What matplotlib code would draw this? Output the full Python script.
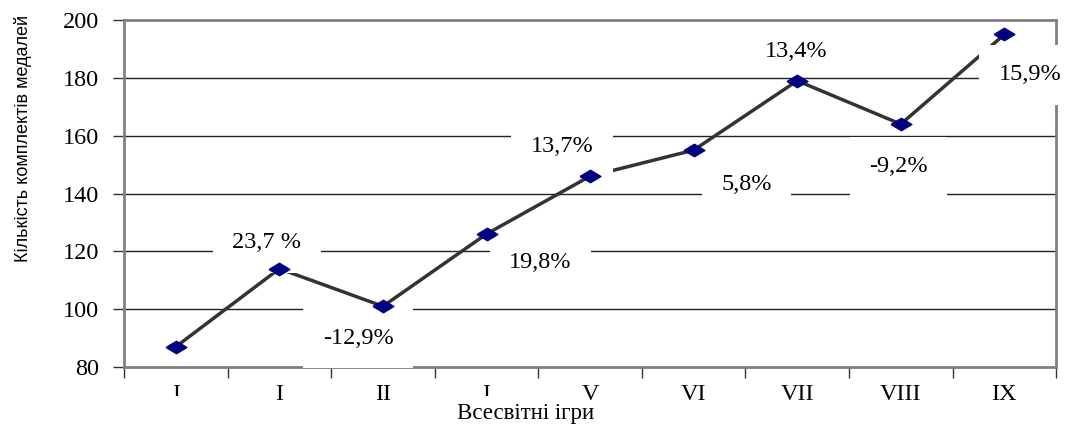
import matplotlib
matplotlib.use("Agg")
import matplotlib.pyplot as plt
from matplotlib.transforms import Bbox, TransformedBbox

# Data
games = ["I", "I", "II", "I", "V", "VI", "VII", "VIII", "IX"]
medal_sets = [87, 114, 101, 126, 146, 155, 179, 164, 195]
growth_labels = ["23,7 %", "-12,9%", "19,8%", "13,7%", "5,8%", "13,4%", "-9,2%", "15,9%"]

# where the growth labels sit (data coords) and whether they have a white box
label_x = [0.88, 1.76, 3.52, 3.73, 5.51, 5.99, 6.98, 8.25]
label_y = [122.9, 90.0, 116.3, 156.1, 143.0, 189.0, 149.2, 181.0]
label_box = [True, True, True, True, True, False, True, True]

serif = "Liberation Serif"
fs = 17.5

fig = plt.figure(figsize=(10.69, 4.26), dpi=100)
ax = fig.add_axes([0.116, 0.1385, 0.872, 0.8145])

x = list(range(len(games)))

# line and markers
ax.plot(x, medal_sets, color="#333333", lw=2.5, zorder=2)
diamond = [(-1, 0), (0, 0.6), (1, 0), (0, -0.6), (-1, 0)]
ax.plot(x, medal_sets, ls="none", marker=diamond, ms=15,
        color="#000080", markeredgecolor="#000080", zorder=4)

# axes limits and grid
ax.set_xlim(-0.5, len(games) - 0.5)
ax.set_ylim(80, 200)
ax.set_yticks(range(80, 201, 20))
for v in range(100, 200, 20):
    ax.axhline(v, color="#222222", lw=1, zorder=1)

for s in ax.spines.values():
    s.set_color("#808080")
    s.set_linewidth(2)
    s.set_zorder(2.5)

# x ticks at category borders, labels at centres
ax.set_xticks([i - 0.5 for i in range(len(games) + 1)])
ax.set_xticklabels([])
ax.set_xticks(x, minor=True)
ax.set_xticklabels(games, minor=True, fontfamily=serif, fontsize=fs)
ax.tick_params(axis="x", which="major", direction="out", length=8, width=1, color="#333333")
ax.tick_params(axis="x", which="minor", length=0, pad=12)
ax.tick_params(axis="y", direction="out", length=8, width=1, color="#333333", pad=10)
for lab in ax.get_yticklabels():
    lab.set_fontfamily(serif)
    lab.set_fontsize(fs)

# the first and fourth labels are cut off in the original
clip = TransformedBbox(Bbox([[0, 1 - 396 / 426], [1, 1]]), fig.transFigure)
minor_labels = ax.get_xticklabels(minor=True)
for i in (0, 3):
    minor_labels[i].set_clip_box(clip)
    minor_labels[i].set_clip_on(True)

# growth labels
for tx, ty, t, box in zip(label_x, label_y, growth_labels, label_box):
    kw = {}
    if box:
        kw["bbox"] = dict(boxstyle="square,pad=0.8", facecolor="white", edgecolor="none")
    ax.text(tx, ty, t, ha="center", va="center", fontfamily=serif, fontsize=fs,
            zorder=3, **kw)

fig.text(0.0215, 0.676, "Кількість комплектів медалей", rotation=90,
         ha="center", va="center", fontfamily="Liberation Sans", fontsize=13)
fig.text(0.492, 0.004, "Всесвітні ігри", ha="center", va="bottom",
         fontfamily=serif, fontsize=16.5)

fig.savefig("out.png", dpi=100)
